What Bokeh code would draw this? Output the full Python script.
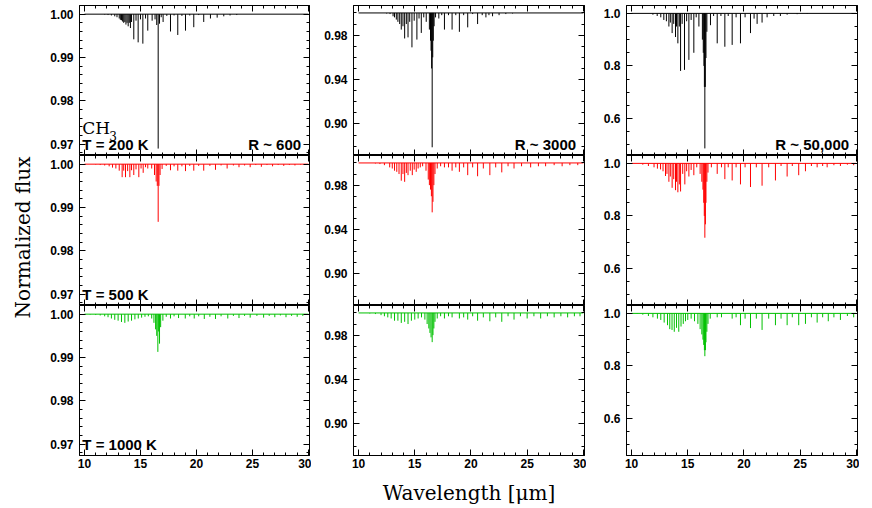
import math
from bokeh.plotting import figure
from bokeh.layouts import gridplot, row as bk_row
from bokeh.models import Label, FixedTicker, PrintfTickFormatter, LinearAxis, Range1d, ColumnDataSource
from bokeh.embed import file_html
from bokeh.resources import INLINE

# ---------------- data ----------------
resolutions = ["R ~ 600", "R ~ 3000", "R ~ 50,000"]
temperatures = ["T = 200 K", "T = 500 K", "T = 1000 K"]
colors = ["#000000", "#ff0000", "#00c000"]
y_title = "Normalized flux"
x_title = "Wavelength [\u03bcm]"

x_major = [10, 15, 20, 25, 30]
x_minor = [10, 11, 12, 13, 14, 15, 16, 17, 18, 19, 20, 21, 22, 23, 24, 25, 26, 27, 28, 29, 30]
y1_major = [0.97, 0.98, 0.99, 1.00]
y1_minor = [0.968, 0.970, 0.972, 0.974, 0.976, 0.978, 0.980, 0.982, 0.984, 0.986, 0.988,
            0.990, 0.992, 0.994, 0.996, 0.998, 1.000]
y2_major = [0.90, 0.94, 0.98]
y2_minor = [0.88, 0.89, 0.90, 0.91, 0.92, 0.93, 0.94, 0.95, 0.96, 0.97, 0.98, 0.99, 1.00]
y3_major = [0.6, 0.8, 1.0]
y3_minor = [0.50, 0.55, 0.60, 0.65, 0.70, 0.75, 0.80, 0.85, 0.90, 0.95, 1.00]

continuum_wl = [10.0, 30.0]
continuum_fx = [1.0, 1.0]

# R~600, T=200 K
wl_a = [11.8, 12.1, 12.4, 12.7, 12.9, 13.1, 13.2, 13.3, 13.4, 13.5, 13.6, 13.7, 13.8, 13.9, 14.0,
        14.1, 14.2, 14.40, 14.60, 14.79, 15.0, 15.21, 15.45, 15.65, 16.04, 16.30, 16.45, 16.58,
        16.70, 16.85, 17.02, 17.35, 17.68, 18.00, 18.33, 18.70, 19.02, 19.40, 19.76, 20.20, 20.65,
        21.25, 21.85, 22.44, 23.0, 23.6]
fx_a = [0.9999, 0.9998, 0.9997, 0.9995, 0.9993, 0.9990, 0.9987, 0.9986, 0.9983, 0.9980, 0.9982,
        0.9976, 0.9980, 0.9972, 0.9980, 0.9968, 0.9982, 0.9942, 0.9985, 0.9935, 0.9988, 0.9932,
        0.9990, 0.9962, 0.9985, 0.9988, 0.9975, 0.9690, 0.9978, 0.9993, 0.9982, 0.9996, 0.9960,
        0.9997, 0.9952, 0.9996, 0.9962, 0.9997, 0.9970, 0.9998, 0.9982, 0.9990, 0.9992, 0.9995,
        0.9997, 0.9998]

# R~3000, T=200 K
wl_b = [12.5, 12.8, 13.07, 13.2, 13.36, 13.5, 13.66, 13.8, 13.95, 14.10, 14.25, 14.40, 14.55,
        14.75, 14.95, 15.19, 15.38, 15.58, 15.80, 16.02, 16.30, 16.40, 16.45, 16.50, 16.55, 16.60,
        16.65, 16.72, 16.85, 17.14, 17.40, 17.64, 18.00, 18.32, 18.65, 18.97, 19.35, 19.71, 20.15,
        20.59, 21.0, 21.33, 21.6, 21.92, 22.5, 23.1, 23.7]
fx_b = [0.9995, 0.999, 0.997, 0.996, 0.994, 0.992, 0.990, 0.985, 0.988, 0.977, 0.990, 0.978,
        0.992, 0.969, 0.993, 0.976, 0.995, 0.982, 0.996, 0.992, 0.985, 0.975, 0.966, 0.950, 0.879,
        0.960, 0.975, 0.988, 0.996, 0.995, 0.998, 0.985, 0.998, 0.985, 0.998, 0.983, 0.998, 0.987,
        0.999, 0.990, 0.998, 0.996, 0.998, 0.997, 0.998, 0.999, 0.9995]

# R~50,000, T=200 K
wl_c = [11.9, 12.28, 12.6, 12.87, 13.1, 13.32, 13.45, 13.61, 13.75, 13.91, 14.0, 14.12, 14.25,
        14.36, 14.50, 14.71, 14.90, 15.10, 15.30, 15.54, 15.75, 15.99, 16.30, 16.38, 16.44, 16.48,
        16.52, 16.56, 16.62, 16.70, 17.02, 17.30, 17.62, 17.95, 18.30, 18.60, 18.95, 19.30, 19.69,
        20.1, 20.58, 20.9, 21.17, 21.61, 22.06, 22.65, 23.24, 23.84, 24.73, 25.62]
fx_c = [0.995, 0.99, 0.985, 0.975, 0.97, 0.95, 0.965, 0.925, 0.96, 0.91, 0.95, 0.886, 0.95, 0.781,
        0.96, 0.785, 0.97, 0.823, 0.975, 0.85, 0.985, 0.95, 0.90, 0.85, 0.80, 0.72, 0.486, 0.72,
        0.83, 0.93, 0.955, 0.99, 0.886, 0.99, 0.873, 0.99, 0.88, 0.985, 0.886, 0.985, 0.925, 0.98,
        0.96, 0.965, 0.985, 0.99, 0.99, 0.995, 0.997, 0.998]

# R~600, T=500 K
wl_d = [11.0, 11.4, 11.8, 12.2, 12.5, 12.8, 13.1, 13.36, 13.5, 13.66, 13.85, 14.05, 14.2, 14.40,
        14.6, 14.85, 15.05, 15.24, 15.45, 15.65, 16.0, 16.25, 16.4, 16.5, 16.58, 16.65, 16.75,
        16.93, 17.3, 17.68, 18.0, 18.33, 18.7, 19.02, 19.4, 19.76, 20.2, 20.65, 21.2, 21.70, 22.2,
        22.74, 23.3, 23.8, 24.3, 24.8, 25.3, 25.8, 26.3, 26.8, 27.3, 27.8, 28.3, 28.8, 29.3, 29.8]
fx_d = [0.9999, 0.9998, 0.9997, 0.9995, 0.9992, 0.9990, 0.9985, 0.9970, 0.9985, 0.9970, 0.9984,
        0.9970, 0.9986, 0.9975, 0.9988, 0.9970, 0.9990, 0.9980, 0.9993, 0.9990, 0.9990, 0.9975,
        0.9960, 0.9950, 0.9867, 0.9950, 0.9975, 0.9989, 0.9996, 0.9986, 0.9995, 0.9985, 0.9995,
        0.9984, 0.9996, 0.9985, 0.9996, 0.9985, 0.9996, 0.9987, 0.9997, 0.9990, 0.9997, 0.9993,
        0.9997, 0.9993, 0.9998, 0.9994, 0.9998, 0.9995, 0.9998, 0.9996, 0.9998, 0.9997, 0.9999,
        0.9998]

# R~3000, T=500 K
wl_e = [11.5, 11.9, 12.3, 12.77, 13.0, 13.2, 13.4, 13.6, 13.80, 13.95, 14.10, 14.25, 14.40, 14.6,
        14.78, 14.95, 15.13, 15.3, 15.49, 15.7, 16.0, 16.2, 16.3, 16.4, 16.48, 16.55, 16.62, 16.7,
        16.8, 17.0, 17.3, 17.64, 18.0, 18.32, 18.65, 18.97, 19.35, 19.71, 20.15, 20.59, 21.1,
        21.68, 22.2, 22.74, 23.3, 23.83, 24.5, 25.31, 26.0, 26.64, 27.4, 28.11, 28.8, 29.5]
fx_e = [0.9995, 0.999, 0.998, 0.996, 0.995, 0.993, 0.992, 0.990, 0.984, 0.990, 0.983, 0.991,
        0.989, 0.993, 0.989, 0.994, 0.992, 0.995, 0.996, 0.997, 0.993, 0.985, 0.980, 0.976, 0.970,
        0.9555, 0.965, 0.980, 0.990, 0.995, 0.997, 0.996, 0.996, 0.993, 0.996, 0.992, 0.996, 0.989,
        0.996, 0.988, 0.995, 0.989, 0.996, 0.9915, 0.997, 0.995, 0.997, 0.996, 0.997, 0.997, 0.998,
        0.997, 0.998, 0.998]

# R~50,000, T=500 K
wl_f = [11.0, 11.5, 12.0, 12.3, 12.58, 12.8, 13.02, 13.15, 13.32, 13.45, 13.61, 13.75, 13.91,
        14.0, 14.12, 14.25, 14.36, 14.55, 14.74, 14.9, 15.10, 15.3, 15.54, 15.8, 16.1, 16.25,
        16.35, 16.42, 16.47, 16.52, 16.57, 16.62, 16.7, 16.8, 17.1, 17.62, 18.0, 18.30, 18.6,
        18.95, 19.3, 19.69, 20.1, 20.58, 21.1, 21.61, 22.2, 22.80, 23.3, 23.84, 24.3, 24.87,
        25.47, 26.0, 26.51, 27.0, 27.40, 28.0, 28.58, 29.2, 29.76]
fx_f = [0.995, 0.99, 0.985, 0.98, 0.977, 0.97, 0.952, 0.96, 0.93, 0.95, 0.907, 0.94, 0.898, 0.93,
        0.89, 0.92, 0.893, 0.96, 0.92, 0.97, 0.95, 0.975, 0.955, 0.985, 0.96, 0.93, 0.90, 0.85,
        0.80, 0.717, 0.768, 0.85, 0.93, 0.965, 0.985, 0.96, 0.985, 0.94, 0.985, 0.935, 0.985,
        0.92, 0.985, 0.91, 0.985, 0.915, 0.985, 0.935, 0.99, 0.95, 0.99, 0.955, 0.97, 0.99, 0.985,
        0.99, 0.985, 0.993, 0.99, 0.995, 0.993]

# R~600, T=1000 K
wl_g = [10.5, 11.0, 11.4, 11.8, 12.1, 12.4, 12.7, 13.0, 13.3, 13.6, 13.9, 14.2, 14.5, 14.8, 15.1,
        15.4, 15.7, 16.0, 16.2, 16.35, 16.45, 16.55, 16.62, 16.70, 16.80, 17.0, 17.3, 17.68, 18.0,
        18.4, 19.0, 19.4, 19.8, 20.2, 20.7, 21.2, 21.7, 22.2, 22.8, 23.3, 23.8, 24.3, 24.8, 25.4,
        26.0, 26.5, 27.0, 27.5, 28.0, 28.5, 29.0, 29.5]
fx_g = [0.9999, 0.9998, 0.9997, 0.9995, 0.9993, 0.9990, 0.9987, 0.9985, 0.9982, 0.9980, 0.9983,
        0.9985, 0.9988, 0.9990, 0.9992, 0.9994, 0.9995, 0.9990, 0.9980, 0.9965, 0.9950, 0.9913,
        0.9960, 0.9932, 0.9970, 0.9985, 0.9994, 0.9990, 0.9995, 0.9991, 0.9990, 0.9995, 0.9990,
        0.9995, 0.9989, 0.9994, 0.9989, 0.9995, 0.9990, 0.9996, 0.9991, 0.9996, 0.9992, 0.9996,
        0.9992, 0.9996, 0.9993, 0.9997, 0.9993, 0.9996, 0.9994, 0.9996]

# R~3000, T=1000 K
wl_h = [11.0, 11.5, 12.0, 12.3, 12.6, 12.9, 13.2, 13.5, 13.8, 14.1, 14.4, 14.7, 15.0, 15.3, 15.6,
        15.9, 16.1, 16.25, 16.35, 16.45, 16.55, 16.62, 16.7, 16.8, 17.0, 17.3, 17.64, 18.0, 18.32,
        18.97, 19.35, 19.71, 20.15, 20.59, 21.1, 21.68, 22.2, 22.74, 23.3, 23.83, 24.4, 25.0, 25.6,
        26.2, 26.8, 27.4, 28.0, 28.6, 29.2, 29.7]
fx_h = [0.9995, 0.999, 0.998, 0.997, 0.996, 0.995, 0.993, 0.993, 0.991, 0.992, 0.990, 0.993,
        0.994, 0.995, 0.996, 0.994, 0.990, 0.986, 0.982, 0.978, 0.9737, 0.980, 0.986, 0.992, 0.995,
        0.997, 0.995, 0.997, 0.996, 0.995, 0.996, 0.994, 0.997, 0.993, 0.996, 0.9925, 0.996, 0.992,
        0.997, 0.994, 0.997, 0.995, 0.997, 0.995, 0.997, 0.996, 0.997, 0.996, 0.997, 0.997]

# R~50,000, T=1000 K
wl_i = [10.5, 11.0, 11.5, 11.9, 12.3, 12.6, 12.9, 13.2, 13.4, 13.6, 13.8, 14.0, 14.2, 14.4, 14.6,
        14.8, 15.0, 15.3, 15.6, 15.9, 16.1, 16.25, 16.35, 16.42, 16.48, 16.52, 16.57, 16.62, 16.7,
        16.8, 17.0, 17.62, 18.0, 18.95, 19.3, 19.69, 20.1, 20.58, 21.1, 21.61, 22.2, 22.80, 23.3,
        23.84, 24.3, 24.87, 25.47, 26.0, 26.51, 27.0, 27.5, 28.0, 28.58, 29.2, 29.76]
fx_i = [0.998, 0.995, 0.99, 0.985, 0.98, 0.975, 0.965, 0.955, 0.94, 0.937, 0.93, 0.945, 0.93,
        0.95, 0.96, 0.97, 0.975, 0.98, 0.97, 0.96, 0.94, 0.92, 0.90, 0.88, 0.86, 0.837, 0.86, 0.89,
        0.93, 0.96, 0.98, 0.985, 0.985, 0.98, 0.985, 0.955, 0.98, 0.944, 0.98, 0.937, 0.98, 0.955,
        0.98, 0.955, 0.985, 0.955, 0.96, 0.985, 0.965, 0.985, 0.97, 0.985, 0.975, 0.99, 0.985]

spectra = [[(wl_a, fx_a), (wl_b, fx_b), (wl_c, fx_c)],
           [(wl_d, fx_d), (wl_e, fx_e), (wl_f, fx_f)],
           [(wl_g, fx_g), (wl_h, fx_h), (wl_i, fx_i)]]

# ---------------- layout / style ----------------
X_RANGE = (9.55, 30.1)
Y_RANGES = [(0.9674, 1.0020), (0.8716, 1.0067), (0.459, 1.030)]
Y_TICKS = [(y1_major, y1_minor, "%.2f"), (y2_major, y2_minor, "%.2f"), (y3_major, y3_minor, "%.1f")]
FRAME_W = [230, 231, 231]
TITLE_W = 40
BORDER_L = [79 - TITLE_W, 42, 40]
FRAME_H = 150
TOP_B = 5
BOT_B = 50
TOTAL_H = TOP_B + 3 * FRAME_H + BOT_B
TICK_FONT = "Liberation Sans"


def style_axis(ax, show_labels, fmt, standoff=6):
    ax.axis_line_color = "black"
    ax.axis_line_width = 1
    ax.major_tick_in = 6
    ax.major_tick_out = 0
    ax.minor_tick_in = 3
    ax.minor_tick_out = 0
    ax.major_tick_line_color = "black"
    ax.minor_tick_line_color = "black"
    ax.formatter = PrintfTickFormatter(format=fmt)
    if show_labels:
        ax.major_label_text_font = TICK_FONT
        ax.major_label_text_font_style = "bold"
        ax.major_label_text_font_size = "12px"
        ax.major_label_text_color = "black"
        ax.major_label_standoff = standoff
    else:
        ax.major_label_text_font_size = "0px"
        ax.major_label_text_color = None
        ax.major_label_standoff = 0


rows = []
for r in range(3):
    row = []
    for c in range(3):
        ymin, ymax = Y_RANGES[c]
        p = figure(frame_width=FRAME_W[c], frame_height=FRAME_H,
                   x_range=Range1d(*X_RANGE), y_range=Range1d(ymin, ymax),
                   output_backend="svg", toolbar_location=None,
                   min_border_left=BORDER_L[c], min_border_right=2,
                   min_border_top=TOP_B if r == 0 else 0,
                   min_border_bottom=BOT_B if r == 2 else 0,
                   background_fill_color="white", border_fill_color="white")
        p.outline_line_color = "black"
        p.outline_line_width = 1
        p.xgrid.visible = False
        p.ygrid.visible = False

        ymaj, ymin_t, yfmt = Y_TICKS[c]
        xt = FixedTicker(ticks=x_major, minor_ticks=x_minor)
        yt = FixedTicker(ticks=ymaj, minor_ticks=ymin_t)

        bottom = p.xaxis[0]
        left = p.yaxis[0]
        top = LinearAxis()
        right = LinearAxis()
        p.add_layout(top, "above")
        p.add_layout(right, "right")
        for ax in (bottom, top):
            ax.ticker = xt
        for ax in (left, right):
            ax.ticker = yt
        style_axis(bottom, r == 2, "%d", standoff=3)
        style_axis(top, False, "%d")
        style_axis(left, True, yfmt)
        style_axis(right, False, yfmt)

        if r == 2 and c == 1:
            bottom.axis_label = x_title
            bottom.axis_label_text_font = "DejaVu Serif"
            bottom.axis_label_text_font_style = "normal"
            bottom.axis_label_text_font_size = "20px"
            bottom.axis_label_text_color = "black"
            bottom.axis_label_standoff = 10

        wl, fx = spectra[r][c]
        src = ColumnDataSource(dict(wl=wl, fx=fx, top=[continuum_fx[0]] * len(wl)))
        col = colors[r]
        p.line(x=continuum_wl, y=continuum_fx, line_color=col, line_width=1)
        p.segment(x0="wl", y0="top", x1="wl", y1="fx", source=src, line_color=col, line_width=1)

        span = ymax - ymin
        if c == 0:
            p.add_layout(Label(x=9.8, y=ymin + 0.02 * span, text=temperatures[r],
                               text_font=TICK_FONT, text_font_style="bold", text_font_size="15px",
                               text_align="left", text_baseline="bottom", text_color="black"))
        if r == 0:
            p.add_layout(Label(x=29.35, y=ymin + 0.02 * span, text=resolutions[c],
                               text_font=TICK_FONT, text_font_style="bold", text_font_size="15px",
                               text_align="right", text_baseline="bottom", text_color="black"))
            if c == 0:
                p.add_layout(Label(x=9.8, y=ymin + 0.115 * span, text="CH",
                                   text_font="DejaVu Serif", text_font_size="17px",
                                   text_align="left", text_baseline="bottom", text_color="black"))
                p.add_layout(Label(x=9.8, y=ymin + 0.115 * span, x_offset=27, y_offset=-3,
                                   text="3", text_font="DejaVu Serif", text_font_size="12px",
                                   text_align="left", text_baseline="bottom", text_color="black"))
        row.append(p)
    rows.append(row)

grid = gridplot(rows, toolbar_location=None)

# narrow figure holding the shared y-axis title
t = figure(frame_width=TITLE_W, frame_height=TOTAL_H, x_range=Range1d(0, TITLE_W),
           y_range=Range1d(0, TOTAL_H), output_backend="svg", toolbar_location=None,
           min_border=0, min_border_left=0, min_border_right=0, min_border_top=0,
           min_border_bottom=0, background_fill_color="white", border_fill_color="white")
t.axis.visible = False
t.xgrid.visible = False
t.ygrid.visible = False
t.outline_line_color = None
t.add_layout(Label(x=22, y=TOTAL_H - 237, text=y_title, angle=math.pi / 2,
                   text_font="DejaVu Serif", text_font_size="20px", text_color="black",
                   text_align="center", text_baseline="middle"))

page = bk_row(t, grid)
open("out.html", "w").write(file_html(page, INLINE))
